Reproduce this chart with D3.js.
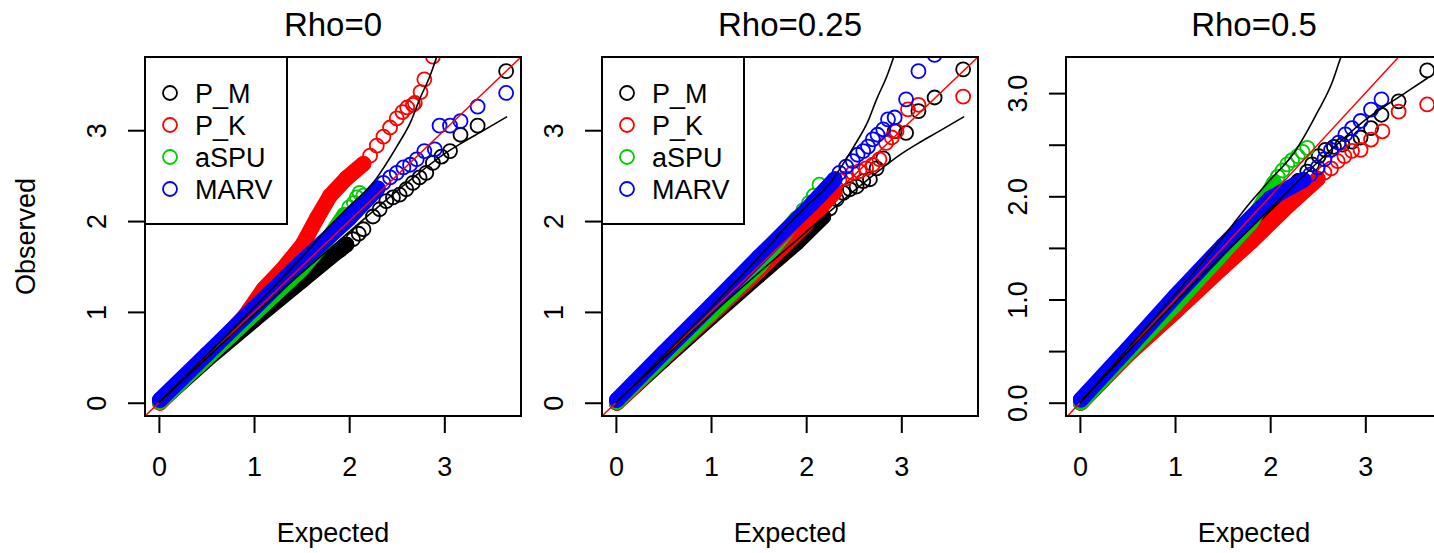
<!DOCTYPE html>
<html><head><meta charset="utf-8">
<script src="https://cdn.jsdelivr.net/npm/d3@7"></script>
<style>body{margin:0;background:#fff}svg{display:block}text{font-family:"Liberation Sans",Arial,Helvetica,sans-serif;fill:#000}</style>
</head><body>
<script>
// ---------------- DATA ----------------
const titles = ["Rho=0", "Rho=0.25", "Rho=0.5"];
const seriesNames = ["P_M", "P_K", "aSPU", "MARV"];
const seriesColors = ["#000000", "#ff0000", "#00cc00", "#0000ff"];
const xTicks = [0, 1, 2, 3];
const yTicksA = [0, 1, 2, 3];
const yTicksB = [0, 0.5, 1, 1.5, 2, 2.5, 3];
const yLabelsB = ["0.0", "", "1.0", "", "2.0", "", "3.0"];

// Rho=0 : dense core trace [expected, observed] and visible tail points
const pm0_core = [[0.01,0.01],[0.5,0.47],[1.0,0.91],[1.5,1.34],[1.8,1.60],[1.97,1.74]];
const pm0_tail = [[1.9,1.68],[1.97,1.74],[2.04,1.80],[2.1,1.86],[2.15,1.91],[2.25,2.05],[2.32,2.13],[2.39,2.22],[2.46,2.26],[2.53,2.29],[2.60,2.35],[2.67,2.42],[2.74,2.48],[2.81,2.53],[2.88,2.64],[2.97,2.71],[3.06,2.77],[3.17,2.95],[3.35,3.05],[3.65,3.65]];
const pk0_core = [[0.01,0.0],[0.5,0.5],[0.9,0.95],[1.1,1.25],[1.3,1.47],[1.51,1.74],[1.66,2.03],[1.80,2.28],[1.97,2.47],[2.15,2.63]];
const pk0_tail = [[2.22,2.72],[2.29,2.83],[2.36,2.93],[2.43,3.03],[2.50,3.13],[2.56,3.20],[2.61,3.25],[2.67,3.28],[2.69,3.30],[2.75,3.42],[2.79,3.56],[2.88,3.81]];
const aspu0_core = [[0.01,0.01],[0.5,0.49],[1.0,0.98],[1.5,1.47],[1.8,1.84],[1.95,2.07]];
const aspu0_tail = [[2.0,2.15],[2.05,2.20],[2.08,2.26],[2.11,2.31],[2.15,2.28]];
const marv0_core = [[0.01,0.03],[0.5,0.53],[1.0,1.04],[1.5,1.55],[2.0,2.03],[2.3,2.36]];
const marv0_tail = [[2.36,2.42],[2.43,2.48],[2.50,2.53],[2.57,2.59],[2.64,2.62],[2.71,2.68],[2.79,2.77],[2.90,2.79],[2.95,3.05],[3.06,3.05],[3.17,3.10],[3.35,3.26],[3.65,3.41]];

// Rho=0.25
const pm25_core = [[0.01,0.0],[0.5,0.47],[1.0,0.94],[1.5,1.40],[1.9,1.76],[2.18,2.05]];
const pm25_tail = [[2.25,2.14],[2.32,2.24],[2.39,2.31],[2.46,2.35],[2.53,2.38],[2.60,2.44],[2.67,2.46],[2.74,2.58],[2.81,2.69],[2.93,2.99],[3.05,2.97],[3.18,3.21],[3.35,3.36],[3.65,3.67]];
const pk25_core = [[0.01,0.0],[0.5,0.49],[1.0,0.97],[1.5,1.45],[2.0,1.97],[2.3,2.32]];
const pk25_tail = [[2.35,2.45],[2.42,2.47],[2.49,2.53],[2.56,2.55],[2.63,2.58],[2.70,2.62],[2.77,2.68],[2.84,2.86],[2.90,2.92],[2.95,2.99],[3.07,3.23],[3.18,3.28],[3.65,3.37]];
const aspu25_core = [[0.01,0.01],[0.5,0.5],[1.0,0.99],[1.5,1.5],[1.9,2.03]];
const aspu25_tail = [[1.97,2.12],[2.03,2.20],[2.08,2.28],[2.14,2.40]];
const marv25_core = [[0.01,0.03],[0.5,0.55],[1.0,1.07],[1.5,1.60],[2.0,2.12],[2.3,2.46]];
const marv25_tail = [[2.35,2.53],[2.42,2.60],[2.49,2.66],[2.54,2.73],[2.60,2.77],[2.65,2.82],[2.70,2.90],[2.75,2.95],[2.81,3.01],[2.86,3.12],[2.93,3.14],[3.05,3.34],[3.18,3.65],[3.35,3.83]];

// Rho=0.5
const pm5_core = [[0.01,0.0],[0.5,0.47],[1.0,0.92],[1.5,1.38],[2.0,1.85],[2.3,2.15]];
const pm5_tail = [[2.39,2.24],[2.44,2.31],[2.51,2.39],[2.58,2.45],[2.67,2.48],[2.76,2.50],[2.86,2.53],[2.95,2.57],[3.06,2.66],[3.17,2.79],[3.35,2.92],[3.65,3.22]];
const pk5_core = [[0.01,0.0],[0.5,0.46],[1.0,0.88],[1.5,1.31],[1.8,1.56],[2.2,1.92],[2.5,2.17]];
const pk5_tail = [[2.57,2.23],[2.64,2.27],[2.71,2.34],[2.78,2.39],[2.86,2.44],[2.95,2.45],[3.06,2.55],[3.18,2.63],[3.35,2.82],[3.65,2.89]];
const aspu5_core = [[0.01,0.0],[0.5,0.48],[1.0,0.95],[1.5,1.45],[1.8,1.75],[2.04,2.13]];
const aspu5_tail = [[2.08,2.19],[2.13,2.25],[2.18,2.31],[2.23,2.35],[2.29,2.39],[2.34,2.43],[2.39,2.47]];
const marv5_core = [[0.01,0.03],[0.5,0.52],[1.0,1.03],[1.5,1.52],[2.0,1.98],[2.35,2.16]];
const marv5_tail = [[2.42,2.21],[2.50,2.28],[2.57,2.36],[2.64,2.45],[2.72,2.52],[2.79,2.60],[2.86,2.66],[2.95,2.73],[3.06,2.84],[3.17,2.94]];

// 95% confidence band curves [expected, observed]
const upperBand = [[0,0],[0.5,0.52],[1.0,1.05],[1.5,1.6],[1.8,1.95],[2.0,2.16],[2.25,2.42],[2.5,2.82],[2.65,3.1],[2.74,3.34],[2.85,3.6],[2.95,3.9]];
const lowerBand = [[0,0],[1.0,0.97],[1.5,1.43],[2.0,1.88],[2.5,2.33],[2.7,2.5],[3.0,2.74],[3.2,2.87],[3.4,2.99],[3.66,3.15]];

// ---------------- LAYOUT ----------------
const W = 1434, H = 553;
const panelLeft = [145, 602, 1066];
const boxW = 376, boxTop = 57, boxBot = 416;
const xDomain = [-0.146, 3.806];
const yDomains = [[-0.146, 3.806], [-0.146, 3.806], [-0.129, 3.35]];
const panelData = [
  [[pm0_core, pm0_tail], [pk0_core, pk0_tail], [aspu0_core, aspu0_tail], [marv0_core, marv0_tail]],
  [[pm25_core, pm25_tail], [pk25_core, pk25_tail], [aspu25_core, aspu25_tail], [marv25_core, marv25_tail]],
  [[pm5_core, pm5_tail], [pk5_core, pk5_tail], [aspu5_core, aspu5_tail], [marv5_core, marv5_tail]]
];

const svg = d3.select("body").append("svg").attr("width", W).attr("height", H);
const FS = 27;
const R = 7, SW = 1.8;

panelData.forEach((series, p) => {
  const L = panelLeft[p];
  const x = d3.scaleLinear().domain(xDomain).range([L, L + boxW]);
  const y = d3.scaleLinear().domain(yDomains[p]).range([boxBot, boxTop]);
  const g = svg.append("g");

  const clipId = "clip" + p;
  g.append("clipPath").attr("id", clipId).append("rect")
    .attr("x", L).attr("y", boxTop).attr("width", boxW).attr("height", boxBot - boxTop);
  const plot = g.append("g").attr("clip-path", `url(#${clipId})`);

  const line = d3.line().x(d => x(d[0])).y(d => y(d[1])).curve(d3.curveLinear);
  series.forEach(([core, tail], s) => {
    const c = seriesColors[s];
    plot.append("path").datum(core).attr("d", line).attr("fill", "none")
      .attr("stroke", c).attr("stroke-width", 2 * R + SW).attr("stroke-linecap", "round").attr("stroke-linejoin", "round");
    plot.selectAll(null).data(core.concat(tail)).enter().append("circle")
      .attr("cx", d => x(d[0])).attr("cy", d => y(d[1])).attr("r", R)
      .attr("fill", "none").attr("stroke", c).attr("stroke-width", SW);
  });

  // y = x reference line
  plot.append("line").attr("x1", x(-1)).attr("y1", y(-1)).attr("x2", x(5)).attr("y2", y(5))
    .attr("stroke", "#ff0000").attr("stroke-width", 1.5);
  // confidence band curves
  const bandLine = d3.line().x(d => x(d[0])).y(d => y(d[1])).curve(d3.curveMonotoneX);
  [upperBand, lowerBand].forEach(b => {
    plot.append("path").datum(b).attr("d", bandLine).attr("fill", "none")
      .attr("stroke", "#000").attr("stroke-width", 1.6);
  });

  // box
  g.append("rect").attr("x", L).attr("y", boxTop).attr("width", boxW).attr("height", boxBot - boxTop)
    .attr("fill", "none").attr("stroke", "#000").attr("stroke-width", 2);

  // x axis
  const xAxis = d3.axisBottom(x).tickValues(xTicks).tickSize(17).tickPadding(24).tickFormat(d3.format("d"));
  const xa = g.append("g").attr("transform", `translate(0,${boxBot})`).call(xAxis);
  xa.select(".domain").remove();
  xa.selectAll(".tick line").attr("stroke", "#000").attr("stroke-width", 2);
  xa.selectAll(".tick text").attr("font-size", FS).attr("font-family", "Liberation Sans, Arial, sans-serif").attr("dy", "0.71em");

  // y axis
  const yt = p === 2 ? yTicksB : yTicksA;
  const yAxis = d3.axisLeft(y).tickValues(yt).tickSize(17)
    .tickFormat((d, i) => p === 2 ? yLabelsB[i] : d3.format("d")(d));
  const ya = g.append("g").attr("transform", `translate(${L},0)`).call(yAxis);
  ya.select(".domain").remove();
  ya.selectAll(".tick line").attr("stroke", "#000").attr("stroke-width", 2);
  ya.selectAll(".tick text").attr("font-size", FS).attr("font-family", "Liberation Sans, Arial, sans-serif")
    .attr("x", null).attr("dy", null)
    .attr("transform", "translate(-39,0) rotate(-90)")
    .attr("text-anchor", "middle").attr("dominant-baseline", "auto");

  // title
  svg.append("text").attr("x", L + boxW / 2).attr("y", 36).attr("text-anchor", "middle")
    .attr("font-size", 33).text(titles[p]);
  // x label
  svg.append("text").attr("x", L + boxW / 2).attr("y", 542).attr("text-anchor", "middle")
    .attr("font-size", FS).text("Expected");
  if (p === 0) {
    svg.append("text").attr("transform", `translate(35,${(boxTop + boxBot) / 2}) rotate(-90)`)
      .attr("text-anchor", "middle").attr("font-size", FS).text("Observed");
  }

  // legend for first two panels
  if (p < 2) {
    const lg = svg.append("g");
    lg.append("rect").attr("x", L).attr("y", boxTop).attr("width", 142).attr("height", 167)
      .attr("fill", "#fff").attr("stroke", "#000").attr("stroke-width", 2);
    seriesNames.forEach((n, i) => {
      const cy = 93 + i * 32;
      lg.append("circle").attr("cx", L + 25).attr("cy", cy).attr("r", R)
        .attr("fill", "none").attr("stroke", seriesColors[i]).attr("stroke-width", SW);
      lg.append("text").attr("x", L + 50).attr("y", cy + 9.5).attr("font-size", FS).text(n);
    });
  }
});
</script>
</body></html>
